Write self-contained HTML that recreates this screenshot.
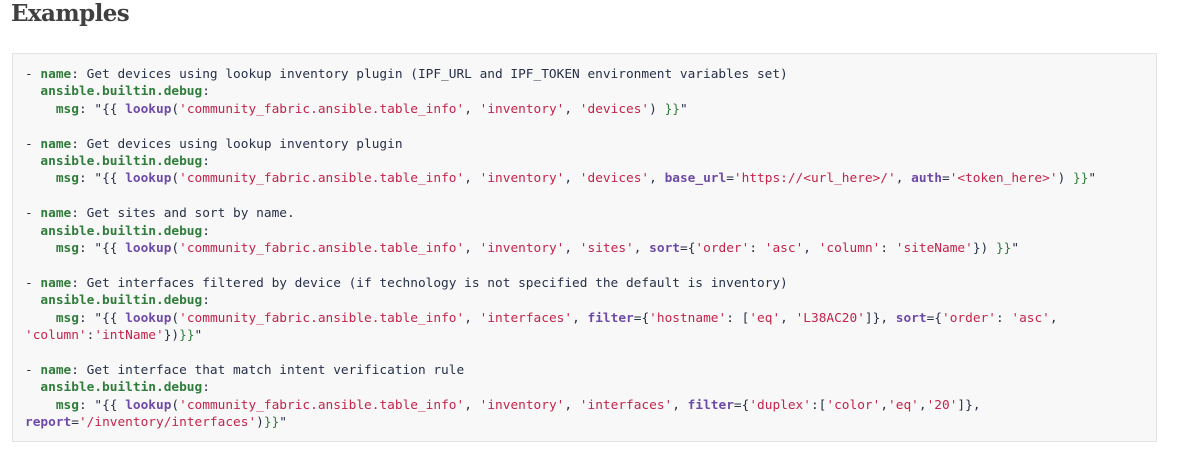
<!DOCTYPE html>
<html><head><meta charset="utf-8"><style>
html,body{margin:0;padding:0;background:#fff;width:1180px;height:450px;overflow:hidden}
h2{position:absolute;left:11px;top:-1px;margin:0;font:bold 23px "DejaVu Serif",serif;color:#404040;letter-spacing:-0.6px;line-height:30px}
.box{position:absolute;left:12px;top:53px;width:1145px;height:389px;background:#f8f8f8;border:1px solid #e3e3e6;box-sizing:border-box}
pre{position:absolute;left:25px;top:66px;margin:0;font-family:"DejaVu Sans Mono",monospace;font-size:12.8px;line-height:17.4px;color:#263049}
.k{color:#2f7d3a;font-weight:bold}
.f{color:#6e4aa8;font-weight:bold}
.s{color:#c4234a}
.g{color:#2f7d3a}
</style></head><body>
<h2>Examples</h2>
<div class="box"></div>
<pre>- <span class="k">name</span>: Get devices using lookup inventory plugin (IPF_URL and IPF_TOKEN environment variables set)
  <span class="k">ansible.builtin.debug</span>:
    <span class="k">msg</span>: "{{ <span class="f">lookup</span>(<span class="s">'community_fabric.ansible.table_info'</span>, <span class="s">'inventory'</span>, <span class="s">'devices'</span>) <span class="g">}}</span>"

- <span class="k">name</span>: Get devices using lookup inventory plugin
  <span class="k">ansible.builtin.debug</span>:
    <span class="k">msg</span>: "{{ <span class="f">lookup</span>(<span class="s">'community_fabric.ansible.table_info'</span>, <span class="s">'inventory'</span>, <span class="s">'devices'</span>, <span class="f">base_url</span>=<span class="s">'https://&lt;url_here&gt;/'</span>, <span class="f">auth</span>=<span class="s">'&lt;token_here&gt;'</span>) <span class="g">}}</span>"

- <span class="k">name</span>: Get sites and sort by name.
  <span class="k">ansible.builtin.debug</span>:
    <span class="k">msg</span>: "{{ <span class="f">lookup</span>(<span class="s">'community_fabric.ansible.table_info'</span>, <span class="s">'inventory'</span>, <span class="s">'sites'</span>, <span class="f">sort</span>={<span class="s">'order'</span>: <span class="s">'asc'</span>, <span class="s">'column'</span>: <span class="s">'siteName'</span>}) <span class="g">}}</span>"

- <span class="k">name</span>: Get interfaces filtered by device (if technology is not specified the default is inventory)
  <span class="k">ansible.builtin.debug</span>:
    <span class="k">msg</span>: "{{ <span class="f">lookup</span>(<span class="s">'community_fabric.ansible.table_info'</span>, <span class="s">'interfaces'</span>, <span class="f">filter</span>={<span class="s">'hostname'</span>: [<span class="s">'eq'</span>, <span class="s">'L38AC20'</span>]}, <span class="f">sort</span>={<span class="s">'order'</span>: <span class="s">'asc'</span>,
<span class="s">'column'</span>:<span class="s">'intName'</span>})<span class="g">}}</span>"

- <span class="k">name</span>: Get interface that match intent verification rule
  <span class="k">ansible.builtin.debug</span>:
    <span class="k">msg</span>: "{{ <span class="f">lookup</span>(<span class="s">'community_fabric.ansible.table_info'</span>, <span class="s">'inventory'</span>, <span class="s">'interfaces'</span>, <span class="f">filter</span>={<span class="s">'duplex'</span>:[<span class="s">'color'</span>,<span class="s">'eq'</span>,<span class="s">'20'</span>]},
<span class="f">report</span>=<span class="s">'/inventory/interfaces'</span>)<span class="g">}}</span>"</pre>
</body></html>
